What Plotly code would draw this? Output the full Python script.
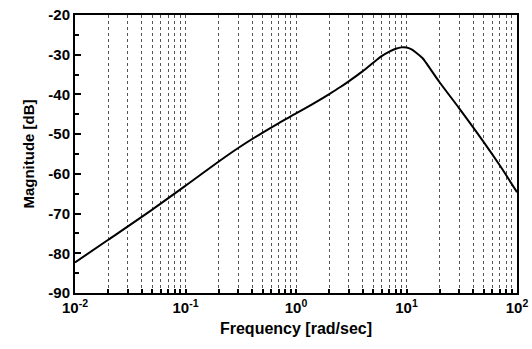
import plotly.graph_objects as go

freq = [0.01, 0.02, 0.05, 0.1, 0.2, 0.3, 0.5, 0.7, 1, 1.5, 2, 2.5, 3, 4, 5, 6, 7, 8, 9, 10, 11, 12, 14, 15, 20, 30, 50, 70, 100]
mag_db = [-82.3, -76.6, -69.0, -63.0, -56.9, -53.5, -49.6, -47.2, -44.8, -42.0, -39.9, -38.2, -36.7, -34.2, -32.0, -30.3, -29.2, -28.5, -28.15, -28.2, -28.6, -29.3, -30.9, -32.0, -37.0, -43.5, -52.0, -57.9, -64.6]

x_tickvals = [0.01, 0.1, 1, 10, 100]
x_ticktext = ["10<sup>-2</sup>", "10<sup>-1</sup>", "10<sup>0</sup>", "10<sup>1</sup>", "10<sup>2</sup>"]
y_tickvals = [-90, -80, -70, -60, -50, -40, -30, -20]
y_ticktext = ["-90", "-80", "-70", "-60", "-50", "-40", "-30", "-20"]

fig = go.Figure()
fig.add_trace(go.Scatter(x=freq, y=mag_db, mode="lines", line=dict(color="black", width=2, shape="spline", smoothing=0.8),
                         showlegend=False))

font = "Liberation Sans, Arial, sans-serif"
fig.update_layout(
    width=532, height=349,
    margin=dict(l=75, r=15, t=15, b=56),
    paper_bgcolor="white", plot_bgcolor="white",
    font=dict(family=font, color="black", size=14),
)
fig.update_xaxes(
    type="log", range=[-2, 2],
    tickvals=x_tickvals, ticktext=["<b>" + t + "</b>" for t in x_ticktext],
    tickfont=dict(size=15, family=font),
    ticks="inside", ticklen=4, tickwidth=1.5, tickcolor="black",
    minor=dict(dtick="D1", ticks="inside", ticklen=4, tickwidth=1.5, tickcolor="black",
               showgrid=True, gridcolor="#555", griddash="dot", gridwidth=1),
    showgrid=True, gridcolor="#555", griddash="dot", gridwidth=1,
    showline=True, linecolor="black", linewidth=2, mirror=True,
    title=dict(text="<b>Frequency [rad/sec]</b>", font=dict(size=16, family=font), standoff=8),
    automargin=False,
)
fig.update_yaxes(
    range=[-90, -20], tickvals=y_tickvals, ticktext=["<b>" + t + "</b>" for t in y_ticktext],
    tickfont=dict(size=15, family=font),
    ticks="inside", ticklen=6, tickwidth=1.5, tickcolor="black",
    minor=dict(dtick=5, ticks="inside", ticklen=4, tickwidth=1.5, tickcolor="black", showgrid=False),
    showgrid=False, zeroline=False,
    showline=True, linecolor="black", linewidth=2, mirror=True,
    title=dict(text="<b>Magnitude [dB]</b>", font=dict(size=15, family=font), standoff=10),
    automargin=False,
)
fig.write_html("out.html")
